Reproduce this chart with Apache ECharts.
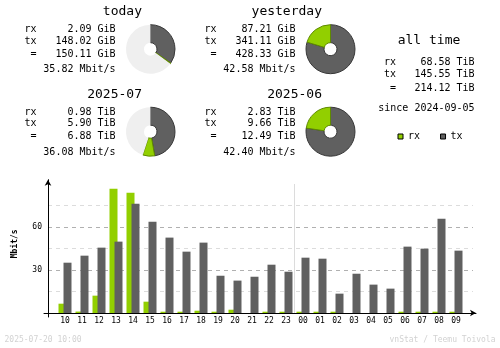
<!DOCTYPE html>
<html>
<head>
<meta charset="utf-8">
<style>
  html, body { margin: 0; padding: 0; background: #ffffff; }
  #chart { width: 500px; height: 348px; }
</style>
<script src="https://cdn.jsdelivr.net/npm/echarts@6/dist/echarts.min.js"></script>
</head>
<body>
<div id="chart"></div>
<script>
// ---- data ----
const hours = ['10','11','12','13','14','15','16','17','18','19','20','21','22','23','00','01','02','03','04','05','06','07','08','09'];
const rxRate = [6.5, 1.0, 12.1, 86.7, 83.9, 7.9, 0.9, 0.9, 1.6, 0.9, 2.3, 0, 0.9, 0.9, 0.9, 0.9, 0.9, 0, 0, 0, 0.9, 0.9, 0.9, 0.9];
const txRate = [35.1, 40.0, 45.6, 49.8, 76.3, 63.7, 52.6, 42.8, 49.1, 26.0, 22.6, 25.3, 33.7, 28.8, 38.6, 37.9, 13.5, 27.4, 19.8, 17.0, 46.3, 44.9, 65.8, 43.5];
const yTickLabels = [30, 60];
const dayStart = '00';

const periods = ['today', 'yesterday', '2025-07', '2025-06'];
const periodRx = [2.09, 87.21, 0.98, 2.83];
const periodTx = [148.02, 341.11, 5.90, 9.66];
const periodTotal = [150.11, 428.33, 6.88, 12.49];
const periodUnit = ['GiB', 'GiB', 'TiB', 'TiB'];
const periodRate = [35.82, 42.58, 36.08, 42.40];
const periodPair = [1, 0, 3, 2];

const allTimeRx = 68.58;
const allTimeTx = 145.55;
const allTimeTotal = 214.12;
const allTimeUnit = 'TiB';
const allTimeSince = '2024-09-05';
const stampText = '2025-07-20 10:00';
const creditText = 'vnStat / Teemu Toivola';

// ---- styles ----
const RX = '#92cf00', TX = '#606060';
const MONO = 'DejaVu Sans Mono';
const K = 43 / 30;        // px per Mbit/s
const BASE = 313;         // baseline y

const chart = echarts.init(document.getElementById('chart'), null, { renderer: 'canvas' });

const graphics = [];
function txt(text, x, y, size, align, extra, weight) {
  graphics.push(Object.assign({
    type: 'text', x: x, y: y, silent: true,
    style: { text: text, fontSize: size, fontFamily: MONO, fontWeight: weight || 'normal',
      fill: '#000', align: align, verticalAlign: 'middle' }
  }, extra || {}));
}
const offX = [0, 180, 0, 180];
const offY = [0, 0, 82.5, 82.5];
const pieCenters = [[150.5, 49.2], [330.5, 49.2], [150.5, 131.7], [330.5, 131.7]];
const pieSeries = [];
periods.forEach(function (p, i) {
  const ox = offX[i], oy = offY[i];
  txt(p, 142 + ox, 11.8 + oy, 13, 'right');
  txt('rx', 24.5 + ox, 29.8 + oy, 10, 'left');
  txt('tx', 24.5 + ox, 41.4 + oy, 10, 'left');
  txt(' =', 24.5 + ox, 54.3 + oy, 10, 'left');
  txt(periodRx[i].toFixed(2) + ' ' + periodUnit[i], 115.6 + ox, 29.8 + oy, 10, 'right');
  txt(periodTx[i].toFixed(2) + ' ' + periodUnit[i], 115.6 + ox, 41.4 + oy, 10, 'right');
  txt(periodTotal[i].toFixed(2) + ' ' + periodUnit[i], 115.6 + ox, 54.3 + oy, 10, 'right');
  txt(periodRate[i].toFixed(2) + ' Mbit/s', 115.6 + ox, 69.8 + oy, 10, 'right');

  const full = Math.max(periodTotal[i], periodTotal[periodPair[i]]);
  const rest = full - periodTotal[i];
  const data = [
    { value: periodTx[i], itemStyle: { color: TX, borderColor: '#383838', borderWidth: 1 } },
    { value: periodRx[i], itemStyle: { color: RX, borderColor: '#5f8a00', borderWidth: 1 } }
  ];
  if (rest > 0) data.push({ value: rest, itemStyle: { color: '#efefef', borderWidth: 0 } });
  pieSeries.push({
    type: 'pie', silent: true, animation: false,
    center: pieCenters[i], radius: [6.5, 24.5],
    startAngle: 90, clockwise: true, minAngle: 0,
    label: { show: false }, labelLine: { show: false },
    emphasis: { disabled: true },
    data: data
  });
});

txt('all time', 429, 40.2, 13, 'center');
txt('rx', 384, 62.8, 10, 'left');
txt('tx', 384, 74.4, 10, 'left');
txt(' =', 384, 88.1, 10, 'left');
txt(allTimeRx.toFixed(2) + ' ' + allTimeUnit, 474.6, 62.8, 10, 'right');
txt(allTimeTx.toFixed(2) + ' ' + allTimeUnit, 474.6, 74.4, 10, 'right');
txt(allTimeTotal.toFixed(2) + ' ' + allTimeUnit, 474.6, 88.1, 10, 'right');
txt('since ' + allTimeSince, 474.6, 108.8, 10, 'right');

txt('Mbit/s', 14.7, 243.8, 8, 'center', { rotation: Math.PI / 2 }, 'bold');

graphics.push({ type: 'text', x: 4.5, y: 340, silent: true,
  style: { text: stampText, fontSize: 8, fontFamily: MONO, fill: '#d2d2d2', align: 'left', verticalAlign: 'middle' } });
graphics.push({ type: 'text', x: 495.5, y: 340, silent: true,
  style: { text: creditText, fontSize: 8, fontFamily: MONO, fill: '#d2d2d2', align: 'right', verticalAlign: 'middle' } });

const option = {
  backgroundColor: '#ffffff',
  animation: false,
  textStyle: { fontFamily: MONO },
  legend: {
    data: ['rx', 'tx'],
    left: 397.5, top: 130.5, padding: 0,
    icon: 'rect', itemWidth: 5, itemHeight: 5, itemGap: 20,
    selectedMode: false,
    itemStyle: { borderColor: '#000', borderWidth: 1 },
    textStyle: { fontFamily: MONO, fontSize: 10, color: '#000', lineHeight: 12 }
  },
  grid: [
    { left: 56.5, width: 408, top: BASE - 90 * K, height: 90 * K },
    { left: 44, width: 432, top: BASE - 93 * K, height: 95.8 * K },
    { left: 48, width: 425, top: BASE - 75 * K, height: 75 * K }
  ],
  xAxis: [
    {
      gridIndex: 0, type: 'category', data: hours, boundaryGap: true,
      axisLine: { show: false }, axisTick: { show: false },
      axisLabel: { interval: 0, fontFamily: MONO, fontSize: 8, color: '#000', margin: 4 },
      // lines at first boundary (hidden) and day change; the appended end line is hidden too
      splitLine: { show: true, interval: function (idx, val) { return idx === 0 || val === dayStart; },
        lineStyle: { color: ['rgba(0,0,0,0)', '#dcdcdc', 'rgba(0,0,0,0)'], width: 1 } },
      z: 0
    },
    {
      gridIndex: 1, type: 'value', min: -4, max: 428,
      axisLine: { show: true, onZero: true, symbol: ['none', 'arrow'], symbolSize: [5, 6],
        lineStyle: { color: '#000', width: 1 } },
      axisTick: { show: false }, axisLabel: { show: false }, splitLine: { show: false },
      z: 3
    },
    { gridIndex: 2, type: 'value', min: 0, max: 1, show: false }
  ],
  yAxis: [
    { gridIndex: 0, type: 'value', min: 0, max: 90, show: false },
    {
      gridIndex: 1, type: 'value', min: -2.8, max: 93,
      axisLine: { show: true, onZero: true, symbol: ['none', 'arrow'], symbolSize: [5, 6],
        lineStyle: { color: '#000', width: 1 } },
      axisTick: { show: false }, axisLabel: { show: false }, splitLine: { show: false },
      z: 3
    },
    {
      gridIndex: 2, type: 'value', min: 0, max: 75, interval: 15,
      axisLine: { show: false }, axisTick: { show: false },
      axisLabel: { fontFamily: MONO, fontSize: 8, color: '#000', margin: 6,
        formatter: function (v) { return yTickLabels.indexOf(v) >= 0 ? String(v) : ''; } },
      splitLine: { show: true, showMinLine: false,
        lineStyle: { color: ['#dcdcdc', '#b0b0b0'], type: [4, 4], width: 1 } },
      z: 0
    }
  ],
  series: [
    {
      name: 'rx', type: 'bar', xAxisIndex: 0, yAxisIndex: 0, data: rxRate,
      barWidth: 8, barGap: '-37.5%', itemStyle: { color: RX }, silent: true, z: 2
    },
    {
      name: 'tx', type: 'bar', xAxisIndex: 0, yAxisIndex: 0, data: txRate,
      barWidth: 8, barGap: '-37.5%', itemStyle: { color: TX }, silent: true, z: 2
    }
  ].concat(pieSeries),
  graphic: graphics
};
chart.setOption(option);
</script>
</body>
</html>
